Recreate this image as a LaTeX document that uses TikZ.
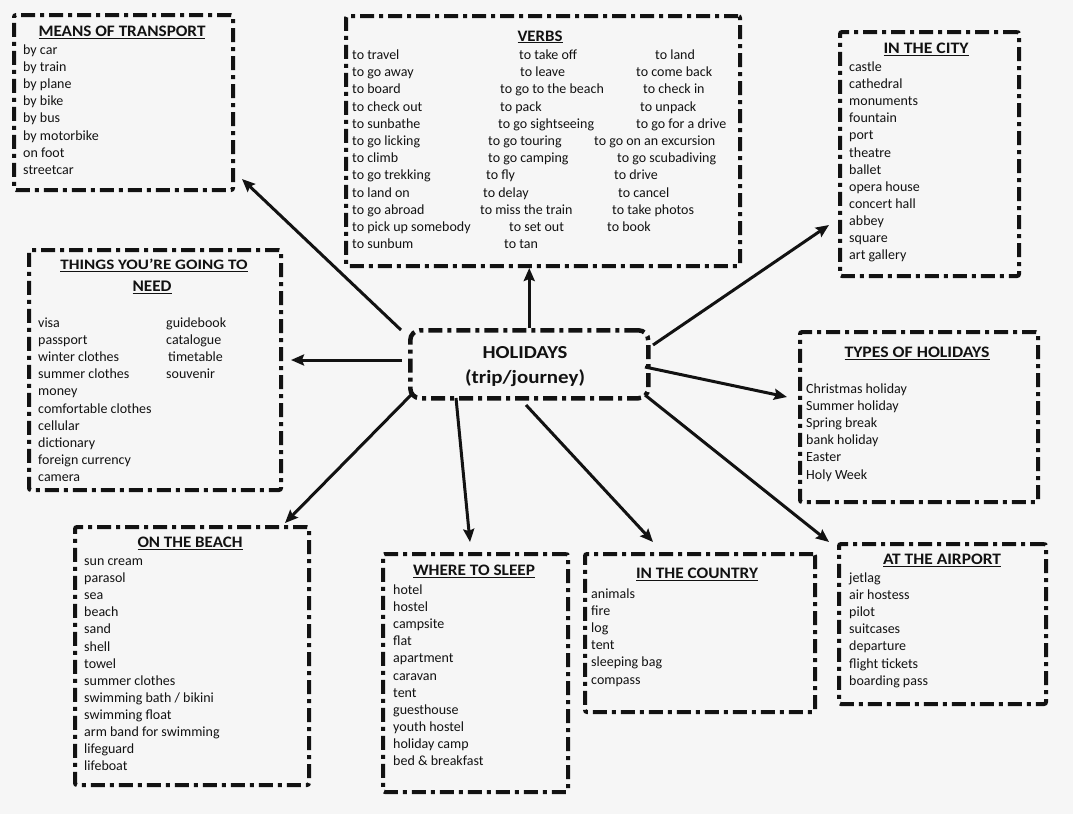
\documentclass[tikz,border=0pt]{standalone}
\usepackage{fontspec}
\usepackage{graphicx}
\setmainfont{Carlito}
\usetikzlibrary{arrows.meta}
\definecolor{bg}{RGB}{246,246,246}
\definecolor{ink}{RGB}{18,18,18}
\newcommand\ttl[2]{\underline{\resizebox{#1pt}{10.5pt}{\bfseries #2}}}
\tikzset{
  box/.style={draw=ink, line width=4pt, dash pattern=on 14pt off 5pt on 4pt off 5pt, rounded corners=2pt, inner sep=0pt, anchor=north west},
  item/.style={font=\fontsize{14}{17}\selectfont, text=ink, inner sep=0pt, anchor=base west},
  title/.style={text=ink, inner sep=0pt, anchor=base},
  conn/.style={draw=ink, line width=3pt, -{Stealth[length=13pt,width=11pt,inset=2pt]}}
}
\begin{document}
\begin{tikzpicture}[x=1pt,y=-1pt]
\fill[bg] (0,0) rectangle (1073,814);
\useasboundingbox (0,0) rectangle (1073,814);

% ---------- texts ----------
% Means of transport
\node[title] (tmt) at (122,36.5) {\ttl{167}{MEANS OF TRANSPORT}};
\foreach \t [count=\i] in {by car,by train,by plane,by bike,by bus,by motorbike,on foot,streetcar}
  \node[item] (mt\i) at (23,{37.4+17.1*\i}) {\t};

% Verbs
\node[title] (tv) at (540,41) {\ttl{45}{VERBS}};
\foreach \a/\b/\c/\xb/\xc [count=\i] in {
  to travel/to take off/to land/519/655,
  to go away/to leave/to come back/520/636,
  to board/to go to the beach/to check in/500/643,
  to check out/to pack/to unpack/500/640,
  to sunbathe/to go sightseeing/to go for a drive/498/636,
  to go licking/to go touring/to go on an excursion/488/594,
  to climb/to go camping/to go scubadiving/488/617,
  to go trekking/to fly/to drive/486/614,
  to land on/to delay/to cancel/483/618,
  to go abroad/to miss the train/to take photos/480/612,
  to pick up somebody/to set out/to book/509/607,
  to sunbum/to tan//504/700}{
  \node[item] (va\i) at (352,{42.3+17.2*\i}) {\a};
  \node[item] (vb\i) at (\xb,{42.3+17.2*\i}) {\b};
  \node[item] (vc\i) at (\xc,{42.3+17.2*\i}) {\c};
}

% In the city
\node[title] (tc) at (926,53.5) {\ttl{85}{IN THE CITY}};
\foreach \t [count=\i] in {castle,cathedral,monuments,fountain,port,theatre,ballet,opera house,concert hall,abbey,square,art gallery}
  \node[item] (ci\i) at (849,{54.4+17.1*\i}) {\t};

% Things you're going to need
\node[title] (tt1) at (154,269.5) {\ttl{187}{THINGS YOU’RE GOING TO}};
\node[title] (tt2) at (152,291.5) {\ttl{39}{NEED}};
\foreach \t [count=\i] in {visa,passport,winter clothes,summer clothes,money,comfortable clothes,cellular,dictionary,foreign currency,camera}
  \node[item] (th\i) at (38,{310.4+17.1*\i}) {\t};
\foreach \t [count=\i] in {guidebook,catalogue,{\hspace{2pt}timetable},souvenir}
  \node[item] (tg\i) at (166,{310.4+17.1*\i}) {\t};

% Types of holidays
\node[title] (tty) at (917,357.5) {\ttl{145}{TYPES OF HOLIDAYS}};
\foreach \t [count=\i] in {Christmas holiday,Summer holiday,Spring break,bank holiday,Easter,Holy Week}
  \node[item] (ty\i) at (806,{376.4+17.1*\i}) {\t};

% On the beach
\node[title] (tb) at (190,547.5) {\ttl{105}{ON THE BEACH}};
\foreach \t [count=\i] in {sun cream,parasol,sea,beach,sand,shell,towel,summer clothes,swimming bath / bikini,swimming float,arm band for swimming,lifeguard,lifeboat}
  \node[item] (be\i) at (84,{548.4+17.1*\i}) {\t};

% Where to sleep
\node[title] (ts) at (474,575.5) {\ttl{122}{WHERE TO SLEEP}};
\foreach \t [count=\i] in {hotel,hostel,campsite,flat,apartment,caravan,tent,guesthouse,youth hostel,holiday camp,bed \& breakfast}
  \node[item] (sl\i) at (393,{577.4+17.1*\i}) {\t};

% In the country
\node[title] (tco) at (697,578.5) {\ttl{122}{IN THE COUNTRY}};
\foreach \t [count=\i] in {animals,fire,log,tent,sleeping bag,compass}
  \node[item] (co\i) at (591,{581.4+17.1*\i}) {\t};

% At the airport
\node[title] (ta) at (942,564.5) {\ttl{118}{AT THE AIRPORT}};
\foreach \t [count=\i] in {jetlag,air hostess,pilot,suitcases,departure,flight tickets,boarding pass}
  \node[item] (ai\i) at (849,{565.4+17.1*\i}) {\t};

% Holidays centre
\node[title] (th) at (525,358) {\resizebox{85pt}{12pt}{\bfseries HOLIDAYS}};
\node[text=ink, inner sep=0pt] (tj) at (525,378) {\resizebox*{120pt}{17pt}{\bfseries (trip/journey)}};

% ---------- boxes ----------
\node[box, minimum width=219pt, minimum height=175pt] (mt) at (12,13) {};
\node[box, minimum width=394pt, minimum height=250pt] (verbs) at (344,14) {};
\node[box, minimum width=179pt, minimum height=244pt] (city) at (838,30) {};
\node[box, minimum width=252pt, minimum height=240pt] (things) at (27,248) {};
\node[box, line width=4.5pt, rounded corners=10pt, minimum width=238pt, minimum height=68pt] (hol) at (408,328) {};
\node[box, minimum width=238pt, minimum height=170pt] (types) at (798,330) {};
\node[box, minimum width=234pt, minimum height=258pt] (beach) at (73,525) {};
\node[box, minimum width=185pt, minimum height=238pt] (sleep) at (381,552) {};
\node[box, minimum width=230pt, minimum height=158pt] (country) at (583,552) {};
\node[box, minimum width=207pt, minimum height=160pt] (airport) at (837,542) {};

% ---------- connectors ----------
\coordinate (s1) at (401,330); \coordinate (e1) at (242,179);
\coordinate (s3) at (653,345); \coordinate (e3) at (829,225);
\coordinate (s4) at (402,360); \coordinate (e4) at (291,360);
\coordinate (s5) at (645,367); \coordinate (e5) at (787,397);
\coordinate (s6) at (411,395); \coordinate (e6) at (285,523);
\coordinate (s7) at (456,398); \coordinate (e7) at (470,542);
\coordinate (s8) at (526,405); \coordinate (e8) at (653,542);
\coordinate (s9) at (645,395); \coordinate (e9) at (829,542);
\draw[conn] (s1) -- (e1);
\draw[conn] (hol.north) -- (hol.north |- verbs.south);
\draw[conn] (s3) -- (e3);
\draw[conn] (s4) -- (e4);
\draw[conn] (s5) -- (e5);
\draw[conn] (s6) -- (e6);
\draw[conn] (s7) -- (e7);
\draw[conn] (s8) -- (e8);
\draw[conn] (s9) -- (e9);
\end{tikzpicture}
\end{document}
